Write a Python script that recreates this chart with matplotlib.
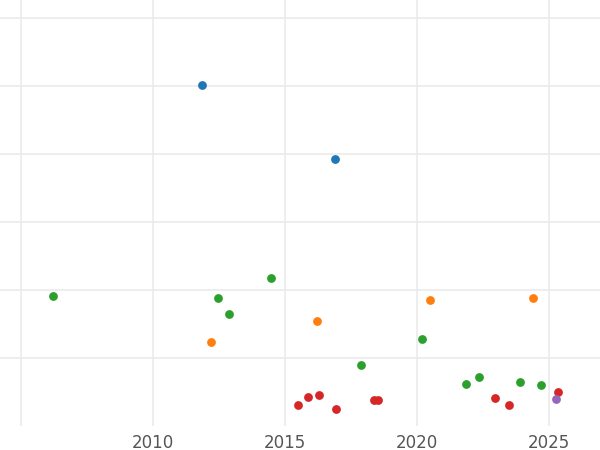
import matplotlib
matplotlib.use("Agg")
import matplotlib.pyplot as plt

blue_x = [2011.86, 2016.89]
blue_y = [5.01, 3.93]
green_x = [2006.21, 2012.46, 2012.88, 2014.47, 2017.88, 2020.19, 2021.86, 2022.35, 2023.90, 2024.70]
green_y = [1.91, 1.88, 1.65, 2.18, 0.90, 1.28, 0.62, 0.72, 0.65, 0.60]
orange_x = [2012.20, 2016.21, 2020.49, 2024.39]
orange_y = [1.24, 1.54, 1.85, 1.88]
red_x = [2015.49, 2015.87, 2016.29, 2016.93, 2018.37, 2018.52, 2022.95, 2023.48, 2025.34]
red_y = [0.31, 0.43, 0.46, 0.25, 0.38, 0.38, 0.41, 0.31, 0.50]
purple_x = [2025.27]
purple_y = [0.40]

fig = plt.figure(figsize=(6, 4.5), dpi=100)
ax = fig.add_axes([0, 24 / 450, 1, 426 / 450])

series = [
    (blue_x, blue_y, "#1f77b4"),
    (green_x, green_y, "#2ca02c"),
    (orange_x, orange_y, "#ff7f0e"),
    (red_x, red_y, "#d62728"),
    (purple_x, purple_y, "#9467bd"),
]
for xs, ys, c in series:
    ax.scatter(xs, ys, s=40, color=c, zorder=3, linewidths=0)

ax.set_xlim(2004.2, 2026.93)
ax.set_ylim(0, 6.26)
ax.set_xticks([2005, 2010, 2015, 2020, 2025])
ax.set_xticklabels(["", "2010", "2015", "2020", "2025"])
ax.set_yticks([1, 2, 3, 4, 5, 6])
ax.set_yticklabels([])
ax.grid(True, color="#ebebeb", linewidth=1.2)
ax.tick_params(length=0, labelsize=12, labelcolor="#555555", pad=6)
for s in ax.spines.values():
    s.set_visible(False)

fig.savefig("out.png")
